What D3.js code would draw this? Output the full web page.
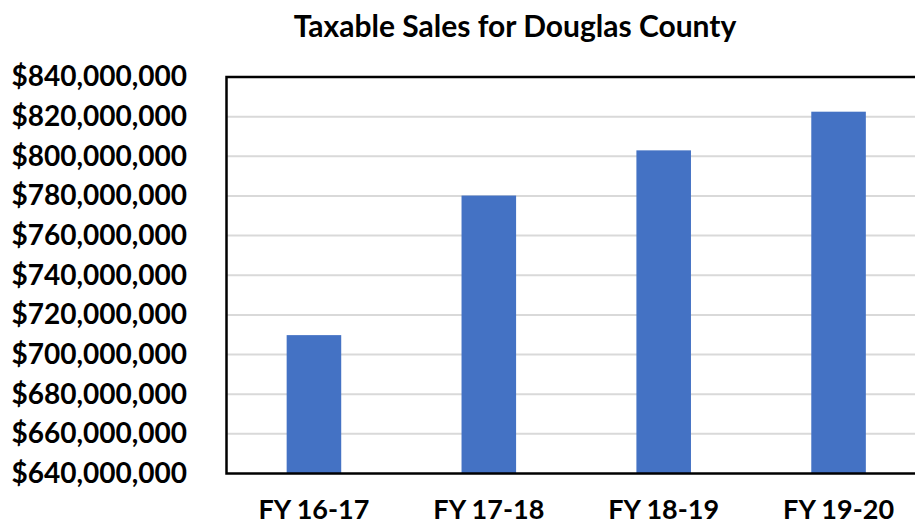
<!DOCTYPE html>
<html>
<head>
<meta charset="utf-8">
<script src="https://cdn.jsdelivr.net/npm/d3@7"></script>
<style>
  html, body { margin: 0; padding: 0; background: #ffffff; }
  svg { display: block; }
  text { font-family: Lato, "Open Sans", sans-serif; fill: #000; }
</style>
</head>
<body>
<svg id="chart" width="915" height="529"></svg>
<script>
// Taxable sales by fiscal year
const categories = ["FY 16-17", "FY 17-18", "FY 18-19", "FY 19-20"];
const sales = [709800000, 780200000, 803000000, 822500000];
const yTicks = [640000000, 660000000, 680000000, 700000000, 720000000,
                740000000, 760000000, 780000000, 800000000, 820000000, 840000000];
const title = "Taxable Sales for Douglas County";

const svg = d3.select("#chart");
const plot = { left: 226.5, right: 926, top: 77, bottom: 473.5 };

const x = d3.scaleBand()
  .domain(categories)
  .range([plot.left, plot.right])
  .paddingInner(0.688)
  .paddingOuter(0.344);

const y = d3.scaleLinear()
  .domain([640000000, 840000000])
  .range([plot.bottom, plot.top]);

// Title
svg.append("text")
  .attr("x", 515)
  .attr("y", 37)
  .attr("text-anchor", "middle")
  .style("font-size", "30px")
  .style("font-weight", 700)
  .text(title);

// Horizontal gridlines
svg.append("g")
  .selectAll("line")
  .data(yTicks.slice(1, -1))
  .join("line")
  .attr("x1", plot.left)
  .attr("x2", plot.right)
  .attr("y1", d => y(d))
  .attr("y2", d => y(d))
  .attr("stroke", "#d9d9d9")
  .attr("stroke-width", 2);

// Bars
svg.append("g")
  .selectAll("rect")
  .data(categories.map((c, i) => ({ c, v: sales[i] })))
  .join("rect")
  .attr("x", d => x(d.c))
  .attr("width", x.bandwidth())
  .attr("y", d => y(d.v))
  .attr("height", d => y(640000000) - y(d.v))
  .attr("fill", "#4472c4");

// Plot frame
svg.append("rect")
  .attr("x", plot.left)
  .attr("y", plot.top)
  .attr("width", plot.right - plot.left)
  .attr("height", plot.bottom - plot.top)
  .attr("fill", "none")
  .attr("stroke", "#000")
  .attr("stroke-width", 2.5);

// Y axis labels
const fmt = d3.format("$,");
const yAxis = d3.axisLeft(y)
  .tickValues(yTicks)
  .tickFormat(d => fmt(d))
  .tickSize(0)
  .tickPadding(0);
const gy = svg.append("g")
  .attr("transform", `translate(187,0)`)
  .call(yAxis);
gy.select(".domain").remove();
gy.selectAll("text")
  .style("font-size", "28px")
  .style("font-weight", 700)
  .style("font-family", "Lato, 'Open Sans', sans-serif")
  .attr("fill", "#000");

// X axis labels
const xAxis = d3.axisBottom(x).tickSize(0).tickPadding(0);
const gx = svg.append("g")
  .attr("transform", `translate(0,500)`)
  .call(xAxis);
gx.select(".domain").remove();
gx.selectAll("text")
  .style("font-size", "27px")
  .style("font-weight", 700)
  .style("font-family", "Lato, 'Open Sans', sans-serif")
  .attr("fill", "#000");
</script>
</body>
</html>
